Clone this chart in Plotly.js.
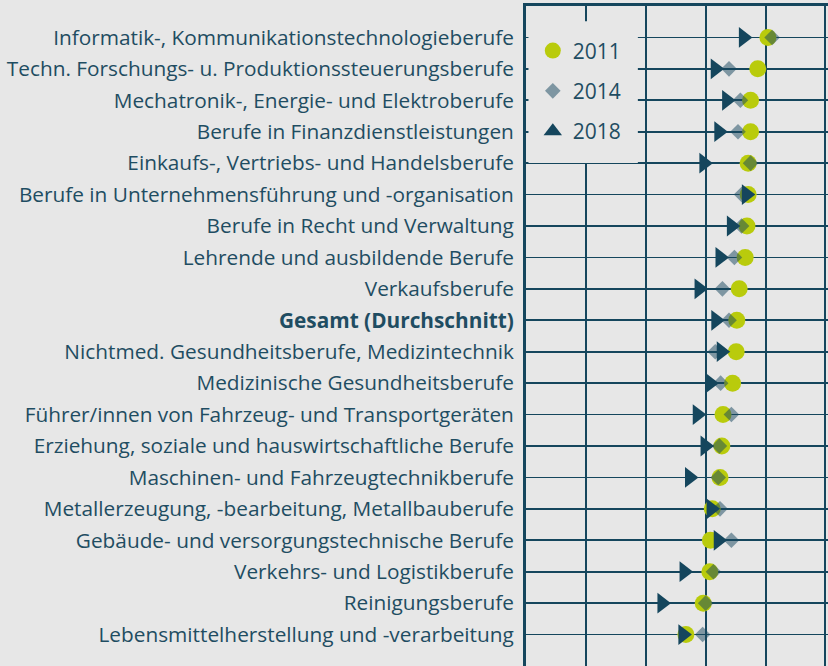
<!DOCTYPE html>
<html>
<head>
<meta charset="utf-8">
<script src="https://cdn.plot.ly/plotly-3.0.1.min.js"></script>
<style>
html, body { margin: 0; padding: 0; overflow: hidden; background: #e7e7e7; }
#chart { width: 850px; height: 680px; }
</style>
</head>
<body>
<div id="chart"></div>
<script>
const categories = [
  "Informatik-, Kommunikationstechnologieberufe",
  "Techn. Forschungs- u. Produktionssteuerungsberufe",
  "Mechatronik-, Energie- und Elektroberufe",
  "Berufe in Finanzdienstleistungen",
  "Einkaufs-, Vertriebs- und Handelsberufe",
  "Berufe in Unternehmensführung und -organisation",
  "Berufe in Recht und Verwaltung",
  "Lehrende und ausbildende Berufe",
  "Verkaufsberufe",
  "<b>Gesamt (Durchschnitt)</b>",
  "Nichtmed. Gesundheitsberufe, Medizintechnik",
  "Medizinische Gesundheitsberufe",
  "Führer/innen von Fahrzeug- und Transportgeräten",
  "Erziehung, soziale und hauswirtschaftliche Berufe",
  "Maschinen- und Fahrzeugtechnikberufe",
  "Metallerzeugung, -bearbeitung, Metallbauberufe",
  "Gebäude- und versorgungstechnische Berufe",
  "Verkehrs- und Logistikberufe",
  "Reinigungsberufe",
  "Lebensmittelherstellung und -verarbeitung"
];
const values2011 = [40.4, 38.7, 37.5, 37.5, 37.1, 37.1, 36.9, 36.6, 35.6, 35.2, 35.1, 34.5, 32.9, 32.7, 32.4, 31.1, 30.8, 30.7, 29.6, 26.7];
const values2014 = [41.1, 33.9, 35.8, 35.4, 37.5, 36.0, 36.0, 34.8, 32.8, 33.9, 31.6, 32.5, 34.3, 32.3, 32.1, 32.4, 34.3, 31.3, 30.0, 29.5];
const values2018 = [36.3, 31.6, 33.5, 32.2, 29.7, 36.8, 34.3, 32.4, 28.9, 31.7, 32.6, 30.7, 28.6, 29.9, 27.3, 30.9, 32.1, 26.4, 22.7, 26.2];
const seriesNames = ["2011", "2014", "2018"];

const navy = "#15465d";
const green = "#b9cb0c";
const textColor = "#1f4d62";
const bg = "#e7e7e7";
const idx = categories.map((c, i) => i);

const traces = [
  { x: values2011, y: idx, type: "scatter", mode: "markers", showlegend: false, hoverinfo: "x",
    marker: { symbol: "circle", size: 17, color: green } },
  { x: values2014, y: idx, type: "scatter", mode: "markers", showlegend: false, hoverinfo: "x",
    marker: { symbol: "diamond", size: 12, color: navy, opacity: 0.5 } },
  { x: values2018, y: idx, type: "scatter", mode: "markers", showlegend: false, hoverinfo: "x",
    marker: { symbol: "triangle-right", size: 18, color: navy } },
  // legend entries
  { x: [null], y: [null], type: "scatter", mode: "markers", name: seriesNames[0], legendgroup: "a",
    marker: { symbol: "circle", size: 17, color: green } },
  { x: [null], y: [null], type: "scatter", mode: "markers", name: seriesNames[1], legendgroup: "b",
    marker: { symbol: "diamond", size: 12, color: navy, opacity: 0.5 } },
  { x: [null], y: [null], type: "scatter", mode: "markers", name: seriesNames[2], legendgroup: "c",
    marker: { symbol: "triangle-up", size: 17, color: navy } }
];

const layout = {
  width: 850,
  height: 680,
  margin: { l: 526, r: 15, t: 6, b: 14 },
  paper_bgcolor: bg,
  plot_bgcolor: bg,
  font: { family: "Open Sans, sans-serif", color: textColor, size: 20.8 },
  showlegend: true,
  legend: {
    x: 0.022, y: 0.963, xanchor: "left", yanchor: "top",
    bgcolor: "rgba(0,0,0,0)", borderwidth: 0,
    font: { size: 21, color: textColor },
    tracegroupgap: 10, traceorder: "grouped"
  },
  shapes: [
    { type: "rect", xref: "paper", yref: "paper", layer: "above",
      x0: 0.008, x1: 0.362, y0: 0.762, y1: 0.977,
      fillcolor: bg, line: { width: 0 } }
  ],
  xaxis: {
    side: "top",
    range: [0, 51.6],
    dtick: 10, tick0: 0,
    showticklabels: false,
    ticks: "",
    showgrid: true, gridcolor: navy, gridwidth: 2,
    showline: true, linecolor: navy, linewidth: 3,
    zeroline: false,
    fixedrange: true
  },
  yaxis: {
    type: "linear",
    range: [20, -1],
    tickmode: "array",
    tickvals: idx,
    ticktext: categories,
    ticks: "",
    showgrid: true, gridcolor: navy, gridwidth: 1.6,
    showline: true, linecolor: navy, linewidth: 3,
    zeroline: false,
    ticklabelstandoff: 5,
    tickfont: { size: 20.8, color: textColor },
    fixedrange: true
  },
  hovermode: false
};

Plotly.newPlot("chart", traces, layout, { displayModeBar: false, staticPlot: true });
</script>
</body>
</html>
